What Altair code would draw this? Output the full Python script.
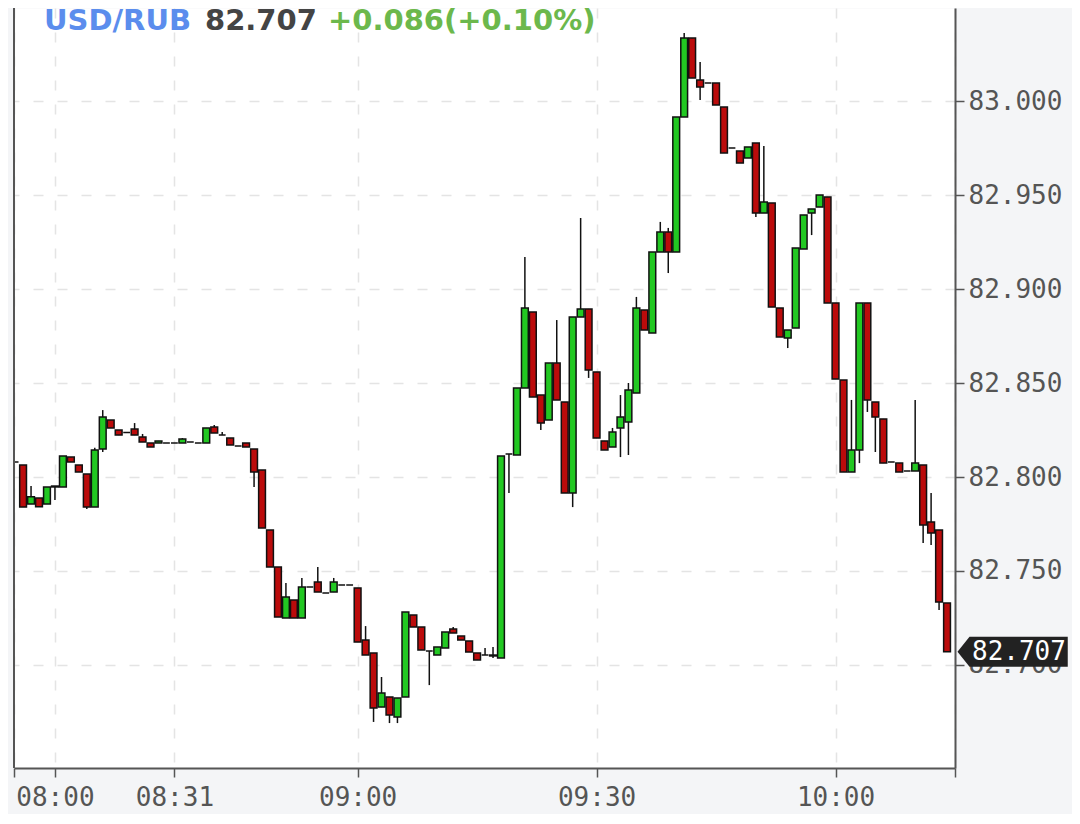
import altair as alt
import pandas as pd

# ---- candle data (index -1 is the partly hidden candle at the left edge) ----
idx = list(range(-1, 117))
opens = [82.808, 82.8064, 82.7856, 82.7888, 82.7856, 82.7947, 82.7947, 82.8106, 82.8064, 82.8016,
         82.784, 82.8149, 82.8303, 82.825, 82.8237, 82.8255, 82.8213, 82.8181, 82.8181, 82.8181,
         82.8181, 82.8181, 82.8186, 82.8181, 82.8181, 82.8266, 82.8223, 82.8207, 82.8165, 82.8181,
         82.8149, 82.8037, 82.7718, 82.7521, 82.725, 82.7346, 82.725, 82.7415, 82.7441, 82.7383,
         82.7388, 82.7425, 82.7425, 82.741, 82.7133, 82.7064, 82.6776, 82.683, 82.6723, 82.683,
         82.7266, 82.7202, 82.7074, 82.7053, 82.709, 82.7191, 82.7154, 82.7128, 82.7064, 82.7053,
         82.7053, 82.7037, 82.8122, 82.8117, 82.8473, 82.8878, 82.8436, 82.8303, 82.8606, 82.8399,
         82.7915, 82.8851, 82.8894, 82.8559, 82.8192, 82.816, 82.8261, 82.8293, 82.8447, 82.8888,
         82.8766, 82.9197, 82.9303, 82.9197, 82.9915, 83.0335, 83.0112, 83.0096, 83.0096, 82.9968,
         82.975, 82.9734, 82.9697, 82.9777, 82.9404, 82.9458, 82.8899, 82.8739, 82.8793, 82.9213,
         82.9404, 82.9436, 82.949, 82.8926, 82.8516, 82.8027, 82.8144, 82.8926, 82.8399, 82.8309,
         82.808, 82.8074, 82.8032, 82.8032, 82.8064, 82.7761, 82.7718, 82.733]
closes = [82.808, 82.784, 82.7895, 82.7842, 82.7947, 82.7952, 82.8112, 82.808, 82.8027, 82.784,
          82.8144, 82.8319, 82.8261, 82.8223, 82.8237, 82.8223, 82.8186, 82.816, 82.8192, 82.8181,
          82.8181, 82.8202, 82.8186, 82.8181, 82.8261, 82.8234, 82.8223, 82.817, 82.8165, 82.816,
          82.8027, 82.7729, 82.7521, 82.7255, 82.7362, 82.725, 82.7415, 82.7415, 82.7388, 82.7383,
          82.7441, 82.7425, 82.7425, 82.7122, 82.7053, 82.6771, 82.6851, 82.6734, 82.6824, 82.7282,
          82.7202, 82.708, 82.7074, 82.7096, 82.7175, 82.717, 82.7133, 82.7069, 82.7027, 82.7053,
          82.7048, 82.8112, 82.8122, 82.8473, 82.8899, 82.8426, 82.8287, 82.8606, 82.841, 82.7915,
          82.8851, 82.8894, 82.8569, 82.8207, 82.8144, 82.8239, 82.8319, 82.8463, 82.8899, 82.8782,
          82.9197, 82.9303, 82.9197, 82.9915, 83.0335, 83.0123, 83.0075, 83.0096, 82.9979, 82.9724,
          82.975, 82.967, 82.9756, 82.9404, 82.9463, 82.8904, 82.8745, 82.8782, 82.9218, 82.9394,
          82.9426, 82.95, 82.8926, 82.8521, 82.8027, 82.8144, 82.8926, 82.841, 82.8319, 82.8074,
          82.808, 82.8027, 82.8032, 82.8074, 82.7745, 82.7702, 82.7335, 82.707]
highs = [82.808, 82.8064, 82.7952, 82.7888, 82.7947, 82.7952, 82.8112, 82.8106, 82.8064, 82.8016,
         82.8156, 82.8356, 82.8303, 82.825, 82.8237, 82.8287, 82.8229, 82.8181, 82.8192, 82.8181,
         82.8181, 82.8207, 82.8186, 82.8181, 82.8261, 82.8277, 82.824, 82.8207, 82.8165, 82.8181,
         82.8149, 82.8037, 82.7718, 82.7521, 82.7436, 82.7346, 82.7463, 82.7415, 82.7521, 82.7383,
         82.7463, 82.7425, 82.7425, 82.741, 82.7207, 82.7064, 82.6936, 82.683, 82.6824, 82.7282,
         82.7266, 82.7202, 82.7074, 82.7096, 82.7175, 82.7202, 82.7154, 82.7128, 82.7064, 82.709,
         82.7096, 82.8112, 82.8122, 82.8473, 82.917, 82.8878, 82.8436, 82.8606, 82.8835, 82.8399,
         82.8851, 82.9378, 82.8894, 82.8559, 82.8192, 82.8261, 82.8436, 82.85, 82.8958, 82.8888,
         82.9197, 82.9357, 82.9325, 82.9915, 83.0362, 83.0335, 83.0208, 83.0096, 83.0096, 82.9968,
         82.975, 82.9734, 82.9756, 82.9777, 82.9761, 82.9458, 82.8899, 82.8782, 82.9218, 82.9394,
         82.9426, 82.95, 82.949, 82.8926, 82.8516, 82.841, 82.8926, 82.8926, 82.8399, 82.8309,
         82.808, 82.8074, 82.8032, 82.841, 82.8064, 82.7915, 82.7718, 82.733]
lows = [82.808, 82.784, 82.7856, 82.7842, 82.7856, 82.7878, 82.7947, 82.808, 82.8027, 82.783,
        82.784, 82.8133, 82.8261, 82.8223, 82.8237, 82.8223, 82.8186, 82.816, 82.8181, 82.8181,
        82.8181, 82.8181, 82.8186, 82.8181, 82.8181, 82.8234, 82.8223, 82.817, 82.8165, 82.816,
        82.7947, 82.7729, 82.7521, 82.7255, 82.725, 82.725, 82.725, 82.7415, 82.7388, 82.7383,
        82.7388, 82.7425, 82.7425, 82.7122, 82.7053, 82.6697, 82.6776, 82.6691, 82.6691, 82.683,
        82.7202, 82.708, 82.6893, 82.7053, 82.709, 82.717, 82.7133, 82.7069, 82.7027, 82.7053,
        82.7037, 82.7037, 82.7915, 82.8117, 82.8473, 82.8426, 82.825, 82.8303, 82.841, 82.7915,
        82.784, 82.8851, 82.8527, 82.8207, 82.8144, 82.816, 82.8106, 82.8117, 82.8447, 82.8782,
        82.8766, 82.9197, 82.9085, 82.9197, 82.9915, 83.0123, 83.0006, 83.0096, 82.9979, 82.9724,
        82.975, 82.967, 82.9697, 82.9383, 82.9404, 82.8904, 82.8745, 82.8686, 82.8793, 82.9213,
        82.9287, 82.9436, 82.8926, 82.8521, 82.8027, 82.8027, 82.8074, 82.8346, 82.8133, 82.8074,
        82.808, 82.8027, 82.8032, 82.8032, 82.7649, 82.7638, 82.7292, 82.707]

tick_idx = [4, 19, 42, 72, 102]
tick_lbl = ["08:00", "08:31", "09:00", "09:30", "10:00"]
y_ticks = [82.70, 82.75, 82.80, 82.85, 82.90, 82.95, 83.00]

symbol = "USD/RUB"
last_price = 82.707
change_txt = "+0.086(+0.10%)"

# ---- table ----
df = pd.DataFrame({"i": idx, "o": opens, "c": closes, "h": highs, "l": lows})
df["hi"] = df[["o", "c", "h"]].max(axis=1)
df["lo"] = df[["o", "c", "l"]].min(axis=1)
df["dir"] = ["up" if c >= o else "down" for o, c in zip(df["o"], df["c"])]

X_DOM = [-1.14, 117.0]
Y_DOM = [82.6452, 83.0495]
W, H = 941, 760
AX = "#555555"
FONT_MONO = "DejaVu Sans Mono"

label_expr = " : ".join(f"datum.value == {v} ? '{t}'" for v, t in zip(tick_idx, tick_lbl)) + " : ''"

x_enc = alt.X(
    "i:Q",
    scale=alt.Scale(domain=X_DOM, nice=False, zero=False, padding=0),
    axis=alt.Axis(
        values=[X_DOM[0]] + tick_idx + [X_DOM[1]], labelExpr=label_expr, title=None,
        grid=True, gridDash=[10, 14], gridColor="#e4e4e4", gridWidth=1.5,
        domainColor=AX, domainWidth=2, tickColor=AX, tickSize=9, tickWidth=1.5,
        labelFont=FONT_MONO, labelFontSize=26, labelColor=AX, labelPadding=7,
        labelFlush=False, labelOverlap=False,
    ),
)
y_scale = alt.Scale(domain=Y_DOM, nice=False, zero=False)
y_axis = alt.Axis(
    orient="right", values=y_ticks, format=".3f", title=None,
    grid=True, gridDash=[10, 14], gridColor="#e4e4e4", gridWidth=1.5,
    domainColor=AX, domainWidth=2, tickColor=AX, tickSize=9, tickWidth=1.5,
    labelFont=FONT_MONO, labelFontSize=26, labelColor=AX, labelPadding=4,
    labelOverlap=False,
)

base = alt.Chart(df)

wicks = base.mark_rule(color="#111111", strokeWidth=1.5, clip=True).encode(
    x=x_enc,
    y=alt.Y("lo:Q", scale=y_scale, axis=y_axis),
    y2="hi:Q",
)

bodies = base.mark_bar(size=6.8, stroke="#111111", strokeWidth=1.5, clip=True).encode(
    x=x_enc,
    y=alt.Y("o:Q", scale=y_scale, axis=y_axis),
    y2="c:Q",
    color=alt.Color("dir:N", scale=alt.Scale(domain=["up", "down"], range=["#22c822", "#bb0b0b"]), legend=None),
)

left_border = alt.Chart(pd.DataFrame({"k": [0]})).mark_rule(color=AX, strokeWidth=2).encode(
    x=alt.value(0), y=alt.value(0), y2=alt.value(H)
)

lp = pd.DataFrame({"p": [last_price]})
marker = alt.Chart(lp).mark_point(
    shape="M0,0L0.8,-1L7.35,-1L7.35,1L0.8,1Z", size=900, filled=True,
    fill="#222222", opacity=1, strokeWidth=0,
).encode(x=alt.value(943.5), y=alt.Y("p:Q", scale=y_scale, axis=y_axis))

marker_txt = alt.Chart(lp).mark_text(
    align="left", baseline="middle", font=FONT_MONO, fontSize=26, color="white",
).encode(
    x=alt.value(958), y=alt.Y("p:Q", scale=y_scale, axis=y_axis),
    text=alt.Text("p:Q", format=".3f"),
)

def title_part(txt, xpos, color):
    return alt.Chart(pd.DataFrame({"t": [txt]})).mark_text(
        align="left", baseline="alphabetic", font="DejaVu Sans", fontWeight="bold",
        fontSize=29, color=color,
    ).encode(text="t:N", x=alt.value(xpos), y=alt.value(21.5))

t1 = title_part(symbol, 30, "#5b8ded")
t2 = title_part(f"{last_price:.3f}", 191, "#444444")
t3 = title_part(change_txt, 314, "#6cb84c")

chart = alt.layer(wicks, bodies, left_border, marker, marker_txt, t1, t2, t3).properties(
    width=W, height=H,
    autosize=alt.AutoSizeParams(type="none"),
    padding={"left": 6, "top": 0, "right": 117, "bottom": 46},
    background="#f4f5f7",
).configure_view(fill="white", stroke="transparent")

chart.save("out.html", embed_options={"renderer": "svg", "actions": False})
